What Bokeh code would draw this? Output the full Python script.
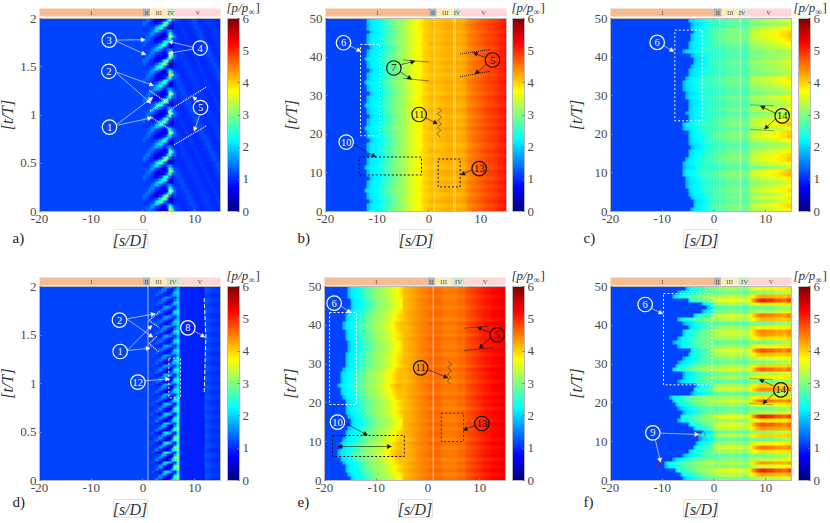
import numpy as np
from bokeh.plotting import figure
from bokeh.layouts import column, row
from bokeh.models import (Range1d, LinearColorMapper, ColorBar, FixedTicker, Arrow, NormalHead)
from bokeh.core.properties import value
from bokeh.embed import file_html
from bokeh.resources import INLINE

FONT = "Liberation Serif"
INK = "#4a4a4a"
FRAME = "#b8b8b8"

# ---- data -----------------------------------------------------------------------
s_stations = [-20 + 0.5 * j for j in range(70)]
x_ticks = [-20, -10, 0, 10]
x_tick_labels = {-20: "-20", -10: "-10", 0: "0", 10: "10"}
t_ticks_short = [0, 0.5, 1, 1.5, 2]
t_labels_short = {0: "0", 0.5: "0.5", 1: "1", 1.5: "1.5", 2: "2"}
t_ticks_long = [0, 10, 20, 30, 40, 50]
t_labels_long = {v: str(v) for v in t_ticks_long}
cbar_ticks = [0, 1, 2, 3, 4, 5, 6]
regions = ["I", "II", "III", "IV", "V"]
region_colors = ["#f5bd95", "#b3b3b3", "#fdeab9", "#cfe5c8", "#fdd6d6"]
edges_a = [-20, 0, 1.4, 4.7, 6.2, 15]
edges_b = [-20, 0, 1.5, 4.8, 6.1, 15]
edges_d = [-20, 0, 1.4, 4.6, 7.0, 15]
edges_e = [-20, 0, 1.35, 4.7, 7.1, 15]

# panel a: one chevron period between s=0 and s=6 (rows upward in t)
a_period = [
    [1.1, 1.3, 1.5, 1.3, 1.1, 0.9, 0.8, 0.7, 0.6, 1.0, 3.5, 2.6, 1.4],
    [1.2, 1.2, 1.3, 1.6, 1.4, 1.1, 0.9, 0.8, 0.7, 1.2, 2.4, 1.7, 1.2],
    [1.1, 1.1, 1.2, 1.4, 1.8, 1.9, 1.5, 1.1, 0.9, 1.4, 1.6, 1.2, 1.0],
    [1.1, 1.1, 1.1, 1.2, 1.4, 2.0, 2.4, 2.1, 1.4, 0.9, 0.6, 0.6, 1.0],
    [1.3, 1.1, 1.1, 1.0, 1.1, 1.3, 1.9, 2.6, 2.7, 1.6, 0.5, 0.5, 1.0],
    [1.4, 1.3, 1.1, 1.0, 0.8, 0.8, 1.0, 1.5, 2.4, 2.6, 1.4, 0.6, 1.1],
    [1.2, 1.4, 1.4, 1.1, 0.8, 0.6, 0.6, 0.7, 1.0, 1.8, 2.4, 1.4, 1.3],
]
a_cycle_gain = [1.2, 0.9, 1.2, 0.8, 1.0, 1.1, 0.9, 1.2, 0.9, 1.1]
a_right = [1.1, 1.05, 1.0, 1.0, 1.05, 1.1, 1.2, 1.15, 1.05, 1.0, 1.0, 1.05, 1.1, 1.1, 1.05, 1.0, 1.0]

# panel d: one streak period between s=1 and s=6.5
d_period = [
    [1.1, 1.1, 1.2, 1.4, 1.1, 0.9, 0.8, 0.8, 1.1, 1.7, 1.8, 2.1],
    [1.1, 1.1, 1.1, 1.2, 1.5, 1.3, 1.0, 0.8, 0.8, 1.2, 2.2, 2.3],
    [1.1, 1.1, 1.1, 1.1, 1.2, 1.6, 1.5, 1.1, 0.8, 0.7, 1.5, 2.0],
    [1.1, 1.2, 1.1, 1.0, 0.9, 1.2, 1.7, 1.8, 1.6, 1.2, 1.0, 1.8],
]
d_cycle_gain = [1.5, 1.7, 1.8, 1.7, 1.6, 1.6, 1.4, 1.3, 1.2, 1.1, 1.1, 1.0, 1.0, 0.9, 0.9, 1.0, 0.9, 0.9, 0.8, 0.8]
d_right = [1.0, 0.98, 0.96, 0.96, 0.96, 0.96, 0.96, 0.96, 0.96, 0.9, 1.15, 1.1, 1.05, 1.0, 0.98, 0.98]
d_right_mod = [0.0, 0.08, 0.12, 0.04]

b_profile = [1.15] * 16 + [
    1.9, 2.15, 2.2, 2.2, 2.25, 2.35, 2.5, 2.6, 2.7, 2.8, 2.9, 3.0, 3.1, 3.15, 3.25, 3.35, 3.45, 3.55, 3.65, 3.7,
    3.8, 3.9, 4.0, 4.05, 4.1, 4.15, 4.1, 4.1, 4.15, 4.15, 4.2, 4.2, 4.2, 4.2, 4.2, 4.2, 4.2, 4.25, 4.35, 4.45,
    4.5, 4.55, 4.6, 4.65, 4.7, 4.75, 4.8, 4.85, 4.85, 4.9, 4.95, 5.0, 5.05, 5.1]
b_front = [-12, -12, -11.5, -12, -12, -12.5, -12, -12, -11.5, -12, -12, -12.5, -12, -12, -11.5, -12, -12, -12, -11.5, -12,
           -12, -12.5, -12, -12, -11.5, -12, -12, -12.5, -12, -12, -11.5, -12, -12, -12.5, -12, -12, -11.5, -12, -12, -12.5,
           -12, -12, -11.5, -12, -12, -12, -11.5, -12, -12, -12]
b_dev = [.05, -.05, .1, 0, -.08, .06, -.04, .08, -.06, .03, .1, -.07, .02, .06, -.05, .08, -.03, -.08, .05, .02,
         -.06, .09, -.02, .05, -.08, .04, .07, -.05, 0, .08, -.06, .03, -.04, .08, .02, -.07, .05, -.03, .06, -.08,
         .04, .02, -.06, .07, -.02, .05, -.05, .03, .06, -.04]

e_profile = [1.15] * 8 + [
    1.9, 2.15, 2.2, 2.25, 2.3, 2.45, 2.6, 2.7, 2.8, 2.9, 3.0, 3.1, 3.15, 3.2, 3.3, 3.35, 3.45, 3.55, 3.65, 3.75,
    3.9, 4.0, 4.1, 4.15, 4.2, 4.25, 4.3, 4.35, 4.4, 4.45, 4.5, 4.5, 4.55, 4.6, 4.6, 4.6, 4.6, 4.55, 4.5, 4.5,
    4.5, 4.5, 4.5, 4.55, 4.6, 4.6, 4.65, 4.75, 4.8, 4.85, 4.9, 4.95, 5.0, 5.05, 5.1, 5.1, 5.15, 5.2, 5.2, 5.25,
    5.3, 5.3]
e_front = [-15.2, -15.5, -15.8, -16, -16.5, -17, -17.5, -17.5, -17.2, -16.8, -16.5, -16, -15.8, -15.5, -15.2, -15.2, -15.5, -15.8, -16, -16.2,
           -16.2, -16.5, -17, -17.2, -17.5, -17.2, -17, -16.8, -16.5, -16.2, -16.2, -16, -15.8, -15.6, -15.6, -15.6, -15.8, -16, -16.2, -16.5,
           -16.5, -16.2, -16, -15.6, -15.2, -15.2, -15.2, -15.4, -15.5, -15.6]
e_dev = [.06, -.08, .1, -.04, .05, -.1, .08, .03, -.06, .1, -.08, .04, .06, -.05, .1, -.06, .02, .08, -.1, .05,
         -.03, .09, -.07, .04, .07, -.09, .05, -.02, .1, -.08, .03, .06, -.06, .08, -.04, .02, .09, -.08, .05, -.03,
         .1, -.07, .04, .06, -.08, .03, .05, -.06, .08, -.02]

c_profile = [1.15] * 30 + [
    1.9, 2.1, 2.15, 2.2, 2.25, 2.35, 2.45, 2.5, 2.55, 2.6, 2.65, 2.7, 2.7, 2.75, 2.8, 2.85, 2.9, 2.9, 2.9, 2.9,
    2.85, 2.8, 2.75, 3.0, 3.15, 3.2, 3.2, 3.25, 3.3, 3.3, 3.35, 3.4, 3.4, 3.45, 3.45, 3.5, 3.55, 3.6, 3.65, 3.7]
c_front = [-4.5, -4.2, -4, -4.5, -5, -5.2, -5.5, -5.5, -5.5, -5.8, -6, -6, -6, -5.5, -5, -4.8, -4.5, -4.8, -5, -5.2,
           -5.2, -5.8, -6.2, -5.2, -5, -5.5, -4.8, -5, -5.2, -5.5, -5.5, -5.8, -6, -5.8, -5.5, -5.2, -5, -4.5, -4, -4.2,
           -4.5, -5.8, -5, -4.8, -4.5, -4.4, -4.2, -4.3, -4.5, -4.8]
c_dev = [.1, .25, -.1, .15, -.05, .2, .05, -.15, .1, .35, .3, -.25, .05, .3, .25, .1, -.2, -.25, .05, .3,
         .25, -.1, .3, .15, -.05, -.3, .1, -.2, -.15, .05, -.3, -.2, -.1, .05, .15, -.3, -.2, -.25, -.05, -.3,
         -.25, -.3, -.1, .05, .2, .3, .25, .1, -.3, -.1]

f_profile = [1.15] * 28 + [
    1.9, 2.2, 2.25, 2.3, 2.4, 2.5, 2.6, 2.7, 2.8, 2.85, 2.9, 2.95, 3.0, 3.05, 3.1, 3.1, 3.15, 3.15, 3.2, 3.2,
    3.15, 3.1, 3.1, 3.05, 3.0, 3.2, 3.4, 3.5, 3.6, 3.65, 3.7, 3.7, 3.7, 3.7, 3.7, 3.7, 3.7, 3.75, 3.75, 3.75,
    3.8, 3.8]
f_front = [-6, -6.5, -7.5, -9.5, -9.5, -8, -6, -5, -4, -3.5, -3, -2.8, -2.5, -4, -5, -7, -6.5, -6, -7, -7.5,
           -8, -8.5, -4.5, -4, -3.5, -7, -6, -6, -8, -7.5, -7, -6, -5, -4.5, -7, -8, -7, -6, -6, -5, -6,
           -7, -4, -2.5, -1.5, -2.5, -5, -8, -7, -5.5]
f_dev = [-.4, .5, 1.3, -.2, .6, -.3, -.7, .2, .8, .1, -.8, .3, -.6, .6, 1.0, .1, 1.3, -.4, -.8, .1,
         .9, .2, -.7, .7, .3, -.8, .1, -.4, .9, .3, -.7, -.2, .4, 1.0, .1, -.8, .2, .6, .7, .1,
         -.8, .4, .8, -.4, -.8, .1, 1.3, .5, -.6, .1]
weight_smooth = [0.0] * 24 + [0.4] * 16 + [0.8] * 30
weight_c = [0.0] * 20 + [0.2] * 20 + [0.45] * 14 + [.7, .8, .9, 1, 1, 1, .9, .9, 1, 1, 1.1, 1.2, 1.2, 1.2, 1.3, 1.4]
weight_f = [0.0] * 20 + [0.2] * 20 + [0.4] * 14 + [.5, .7, .9, 1, 1.1, 1.1, 1, 1, 1, .9, .8, .8, .7, .7, .8, .9]

WIDTHS = [280, 275, 274]
HEIGHTS = [262, 260]


def jet(n=256):
    x = np.linspace(0, 1, n)
    ch = [np.clip(1.5 - np.abs(4 * x - k), 0, 1) for k in (3, 2, 1)]
    return ["#%02x%02x%02x" % (int(r * 255), int(g * 255), int(b * 255)) for r, g, b in zip(*ch)]


mapper = LinearColorMapper(palette=jet(), low=0, high=6)


def shifted(profile, fronts, f0, devs, weight, limit):
    prof = np.array(profile, float)
    w = np.array(weight, float)
    s = np.array(s_stations)
    out = []
    for fr, dv in zip(fronts, devs):
        k = int(round((fr - f0) / 0.5))
        idx = np.clip(np.arange(70) - k, 0, 69)
        r = np.where(s < limit, prof[idx], prof)
        r = np.where(r > 1.5, r + dv * w, r)
        out.append(r)
    return np.array(out)


def field_a():
    rows = []
    for c, g in enumerate(a_cycle_gain):
        for r, per in enumerate(a_period):
            left = [1.15] * 40
            mid = [1.15 + g * (v - 1.15) for v in per]
            idx = (c * 7 + r) // 2
            right = [a_right[(j + idx) % 17] for j in range(17)]
            rows.append(left + mid + right)
    return np.array(rows)


def field_d():
    rows = []
    for c, g in enumerate(d_cycle_gain):
        for r, per in enumerate(d_period):
            left = [1.15] * 42
            mid = [1.15 + g * (v - 1.15) for v in per]
            right = [v + (d_right_mod[r] if j >= 10 else 0) for j, v in enumerate(d_right)]
            rows.append(left + mid + right)
    return np.array(rows)


def make_panel(field, tmax, tticks, tlabels, edges, col, rw, hx0, hy0, hy1, cbx, zx, zy, bar_gap,
               letter, letter_x, letter_y, title_x, title_y, lab_box):
    cw, ch = WIDTHS[col], HEIGHTS[rw]
    hx1 = hx0 + 181
    sx = 181 / 35
    sy = (hy1 - hy0) / tmax
    p = figure(width=cw, height=ch, output_backend="svg", toolbar_location=None,
               x_range=Range1d(-20 - hx0 / sx, 15 + (cw - hx1) / sx),
               y_range=Range1d(-(ch - hy1) / sy, tmax + hy0 / sy),
               min_border=0, outline_line_color=None, background_fill_color="white", border_fill_color="white")
    p.grid.visible = False
    cell = lambda x, y: (-20 + (x - hx0) / sx, (hy1 - y) / sy)
    z = lambda x, y: (-20 + (x - zx[0]) * 35 / (zx[1] - zx[0]), tmax * (zy[0] - y) / (zy[0] - zy[1]))
    p._z, p._cell = z, cell
    p.image(image=[field], x=-20, y=0, dw=35, dh=tmax, color_mapper=mapper)
    p.quad(left=[-20], right=[15], bottom=[0], top=[tmax], fill_color=None, line_color=FRAME, line_width=1)
    # region strip
    p.quad(left=edges[:-1], right=edges[1:], bottom=(hy1 - hy0 + bar_gap) / sy, top=(hy1 - hy0 + bar_gap + 8) / sy,
           fill_color=region_colors, line_color=None)
    mids = [(a + b) / 2 for a, b in zip(edges[:-1], edges[1:])]
    p.text(x=mids, y=[(hy1 - hy0 + bar_gap + 4) / sy] * 5, text=regions, text_font=value(FONT), text_font_size="6.5px",
           text_color="#555555", text_align="center", text_baseline="middle")
    for ax, ticks, labels, bounds in ((p.xaxis[0], x_ticks, x_tick_labels, (-20, 15)),
                                      (p.yaxis[0], tticks, tlabels, (0, tmax))):
        ax.ticker = FixedTicker(ticks=ticks)
        ax.major_label_overrides = labels
        ax.bounds = bounds
        ax.minor_tick_line_color = None
        ax.major_tick_in = 2
        ax.major_tick_out = 0
        ax.major_tick_line_color = "#8a8a8a"
        ax.axis_line_color = FRAME
        ax.major_label_text_font = FONT
        ax.major_label_text_font_size = "13px"
        ax.major_label_text_color = INK
        ax.major_label_standoff = 3
        ax.axis_label_text_font = FONT
        ax.axis_label_text_font_size = "16px"
        ax.axis_label_text_font_style = "italic"
        ax.axis_label_text_color = "#333333"
    p.xaxis[0].axis_label = "[s/D]"
    p.yaxis[0].axis_label = "[t/T]"
    p.xaxis[0].fixed_location = 0
    p.yaxis[0].fixed_location = -20
    p.xaxis[0].axis_label_standoff = 6
    p.yaxis[0].axis_label_standoff = 1 if tmax == 2 else 7
    # faint box round the x label
    bx0, by0 = cell(lab_box[0], lab_box[3])
    bx1, by1 = cell(lab_box[2], lab_box[1])
    p.quad(left=[bx0], right=[bx1], bottom=[by0], top=[by1], fill_color=None, line_color="#e2e2e2", line_width=1)
    cb = ColorBar(color_mapper=mapper, width=12, height=hy1 - hy0, location=(cbx, ch - hy1), padding=0, margin=0,
                  ticker=FixedTicker(ticks=cbar_ticks), major_label_text_font=FONT,
                  major_label_text_font_size="13px", major_label_text_color=INK, label_standoff=3,
                  major_tick_line_color="#777777", major_tick_in=2, bar_line_color=FRAME)
    p.add_layout(cb, "center")
    X, Y = cell(letter_x, letter_y)
    p.text([X], [Y], text=[letter], text_font=value(FONT), text_font_size="15px", text_color="#222222")
    for dx, dy, txt, size, style in ((0, 0, "[p/p", 13, "italic"), (22, 2, "∞", 9, "normal"), (29, 0, "]", 13, "normal")):
        X, Y = cell(title_x + dx, title_y + dy)
        p.text([X], [Y], text=[txt], text_font=value(FONT), text_font_size=f"{size}px", text_font_style=style, text_color="#333333")
    return p


def pt(p, x, y):
    return p._z(x, y)


def badge(p, x, y, txt, color):
    X, Y = pt(p, x, y)
    p.scatter([X], [Y], size=14.5, marker="circle", fill_color=None, line_color=color, line_width=1.2)
    p.text([X], [Y], text=[txt], text_font=value(FONT), text_font_size="10.5px", text_color=color,
           text_align="center", text_baseline="middle")


def arrow(p, a, b, color, both=False):
    x0, y0 = pt(p, *a)
    x1, y1 = pt(p, *b)
    kw = {}
    if both:
        kw["start"] = NormalHead(size=4, fill_color=color, line_color=color, line_width=0.5)
    p.add_layout(Arrow(end=NormalHead(size=4, fill_color=color, line_color=color, line_width=0.5), x_start=x0, y_start=y0, x_end=x1, y_end=y1,
                       line_color=color, line_width=0.6, **kw))


def dotted(p, pts, color, dash="1 1", lw=1.0, alpha=1.0):
    xy = [pt(p, *q) for q in pts]
    p.line([q[0] for q in xy], [q[1] for q in xy], line_color=color, line_dash=dash, line_width=lw, line_alpha=alpha)


def box(p, x0, y0, x1, y1, color, dash="2 2"):
    dotted(p, [(x0, y0), (x1, y0), (x1, y1), (x0, y1), (x0, y0)], color, dash=dash, lw=1.0)


def vline(p, s_val, tmax, alpha, lw=1.0):
    p.line([s_val, s_val], [0, tmax], line_color="white", line_alpha=alpha, line_width=lw)


W, K = "white", "#111111"

# --- panel a
a = make_panel(field_a(), 2, t_ticks_short, t_labels_short, edges_a, 0, 0, 39, 18, 211, 227, (118, 661), (634, 53), 2,
               "a)", 12, 245, 226, 14, (113, 229, 147, 248))
for n, x, y in (("3", 327, 118), ("2", 326, 212), ("1", 328, 380), ("4", 600, 142), ("5", 601, 321)):
    badge(a, x, y, n, W)
for A, B in (((350, 118), (435, 117)), ((350, 122), (437, 162)), ((350, 215), (460, 255)), ((350, 218), (452, 308)),
             ((350, 372), (458, 290)), ((352, 374), (455, 352)), ((580, 140), (505, 122)), ((580, 145), (505, 158)),
             ((596, 305), (578, 288)), ((598, 345), (582, 392))):
    arrow(a, A, B, W)
for q in ([(447, 270), (505, 308)], [(450, 332), (478, 312)], [(450, 348), (510, 388)], [(505, 335), (522, 320), (620, 258)], [(522, 433), (618, 376)]):
    dotted(a, q, W, lw=1.2)

# --- panel b
b = make_panel(shifted(b_profile, b_front, -12, b_dev, weight_smooth, -6), 50, t_ticks_long, t_labels_long, edges_b, 1, 0,
               45, 18, 211, 232, (134, 677), (634, 53), 2, "b)", 17, 245, 231, 14, (119, 229, 153, 248))
vline(b, 1, 50, 0.45)
vline(b, 4.8, 50, 0.45)
vline(b, 5.1, 50, 0.45)
box(b, 239, 131, 296, 406, W)
box(b, 235, 470, 422, 524, K)
box(b, 472, 476, 538, 560, K)
for q in ([(368, 178), (444, 184)], [(368, 233), (444, 241)], [(538, 160), (628, 146)], [(538, 228), (628, 212)]):
    dotted(b, q, K)
dotted(b, [(472, 322), (482, 330), (470, 340), (482, 350), (470, 360), (482, 370), (470, 380), (480, 390), (468, 400), (478, 410)], "#333333", dash="solid", lw=0.6)
badge(b, 188, 126, "6", W); badge(b, 196, 425, "10", W)
badge(b, 339, 202, "7", K); badge(b, 635, 178, "5", K); badge(b, 415, 342, "11", K); badge(b, 595, 505, "13", K)
arrow(b, (206, 135), (240, 152), W)
for A, B in (((218, 432), (285, 470)), ((358, 192), (402, 182)), ((358, 214), (392, 236)), ((616, 172), (578, 156)),
             ((617, 190), (583, 220)), ((434, 352), (470, 370)), ((575, 508), (540, 524))):
    arrow(b, A, B, K)

# --- panel c
c = make_panel(shifted(c_profile, c_front, -5, c_dev, weight_c, -1), 50, t_ticks_long, t_labels_long, edges_b, 2, 0,
               55, 18, 211, 243, (165, 708), (634, 53), 2, "c)", 28, 245, 238, 14, (128, 229, 162, 248))
vline(c, 1.1, 50, 0.5)
vline(c, 5.1, 50, 0.5)
box(c, 358, 88, 440, 361, W)
for q in ([(585, 313), (657, 316)], [(585, 387), (657, 391)]):
    dotted(c, q, "#333333", lw=0.8)
badge(c, 305, 125, "6", W); badge(c, 680, 346, "14", K)
arrow(c, (325, 135), (355, 152), W)
arrow(c, (660, 338), (615, 317), K); arrow(c, (660, 355), (627, 386), K)

# --- panel d
d = make_panel(field_d(), 2, t_ticks_short, t_labels_short, edges_d, 0, 1, 39, 24, 218, 227, (118, 661), (655, 73), 1,
               "d)", 12, 247, 226, 20, (113, 237, 147, 255))
vline(d, 1, 2, 0.4, lw=1.6)
for q in ([(478, 148), (447, 175), (478, 197)], [(470, 222), (447, 245), (475, 268)]):
    dotted(d, q, W, lw=1.2)
dotted(d, [(612, 108), (617, 225), (612, 390)], W, dash="4 2")
box(d, 506, 288, 541, 407, W)
badge(d, 358, 174, "2", W); badge(d, 360, 268, "1", W); badge(d, 563, 197, "8", W); badge(d, 413, 360, "12", W)
for A, B in (((380, 170), (465, 155)), ((382, 172), (458, 225)), ((382, 264), (455, 190)), ((382, 265), (450, 258)),
             ((585, 208), (614, 225)), ((435, 356), (508, 350))):
    arrow(d, A, B, W)

# --- panel e
e = make_panel(shifted(e_profile, e_front, -16, e_dev, weight_smooth, -5), 50, t_ticks_long, t_labels_long, edges_e, 1, 1,
               44, 24, 218, 232, (131, 675), (655, 73), 1, "e)", 17, 247, 231, 20, (118, 237, 152, 255))
vline(e, 1, 50, 0.6)
box(e, 146, 151, 227, 427, W)
box(e, 155, 520, 371, 583, K)
box(e, 482, 453, 549, 538, "#333333")
for q in ([(552, 198), (625, 192)], [(552, 265), (642, 256)]):
    dotted(e, q, K)
dotted(e, [(503, 298), (513, 306), (501, 316), (513, 326), (501, 336), (511, 346), (500, 356), (508, 365)], "#333333", dash="solid", lw=0.6)
badge(e, 160, 123, "6", W); badge(e, 170, 480, "10", W)
badge(e, 420, 317, "11", K); badge(e, 604, 484, "13", K); badge(e, 650, 218, "5", K)
arrow(e, (178, 130), (210, 152), W)
arrow(e, (172, 553), (332, 553), K, both=True)
for A, B in (((192, 482), (260, 519)), ((440, 322), (502, 347)), ((584, 490), (548, 504)), ((630, 212), (590, 195)), ((630, 226), (596, 258))):
    arrow(e, A, B, K)

# --- panel f
f = make_panel(shifted(f_profile, f_front, -6, f_dev, weight_f, 0), 50, t_ticks_long, t_labels_long, edges_e, 2, 1,
               55, 24, 218, 243, (165, 708), (655, 73), 1, "f)", 28, 247, 238, 20, (128, 237, 162, 255))
vline(f, 1.1, 50, 0.2)
vline(f, 5.1, 50, 0.2)
box(f, 324, 94, 469, 368, W)
for q in ([(582, 349), (654, 352)], [(582, 424), (654, 428)]):
    dotted(f, q, "#333333", lw=0.8)
badge(f, 269, 127, "6", W); badge(f, 292, 512, "9", W); badge(f, 676, 383, "14", K)
for x, y in ((438, 517), (314, 612)):
    X, Y = pt(f, x, y)
    f.scatter([X], [Y], size=7, marker="circle", fill_color=None, line_color="#d02020", line_dash="1 1", line_width=1)
arrow(f, (290, 140), (322, 155), W); arrow(f, (315, 513), (430, 517), W); arrow(f, (300, 535), (315, 600), W)
arrow(f, (655, 372), (612, 352), K); arrow(f, (655, 395), (622, 425), K)

page = column(row(a, b, c, spacing=0), row(d, e, f, spacing=0), spacing=0)
open("out.html", "w").write(file_html(page, INLINE))
